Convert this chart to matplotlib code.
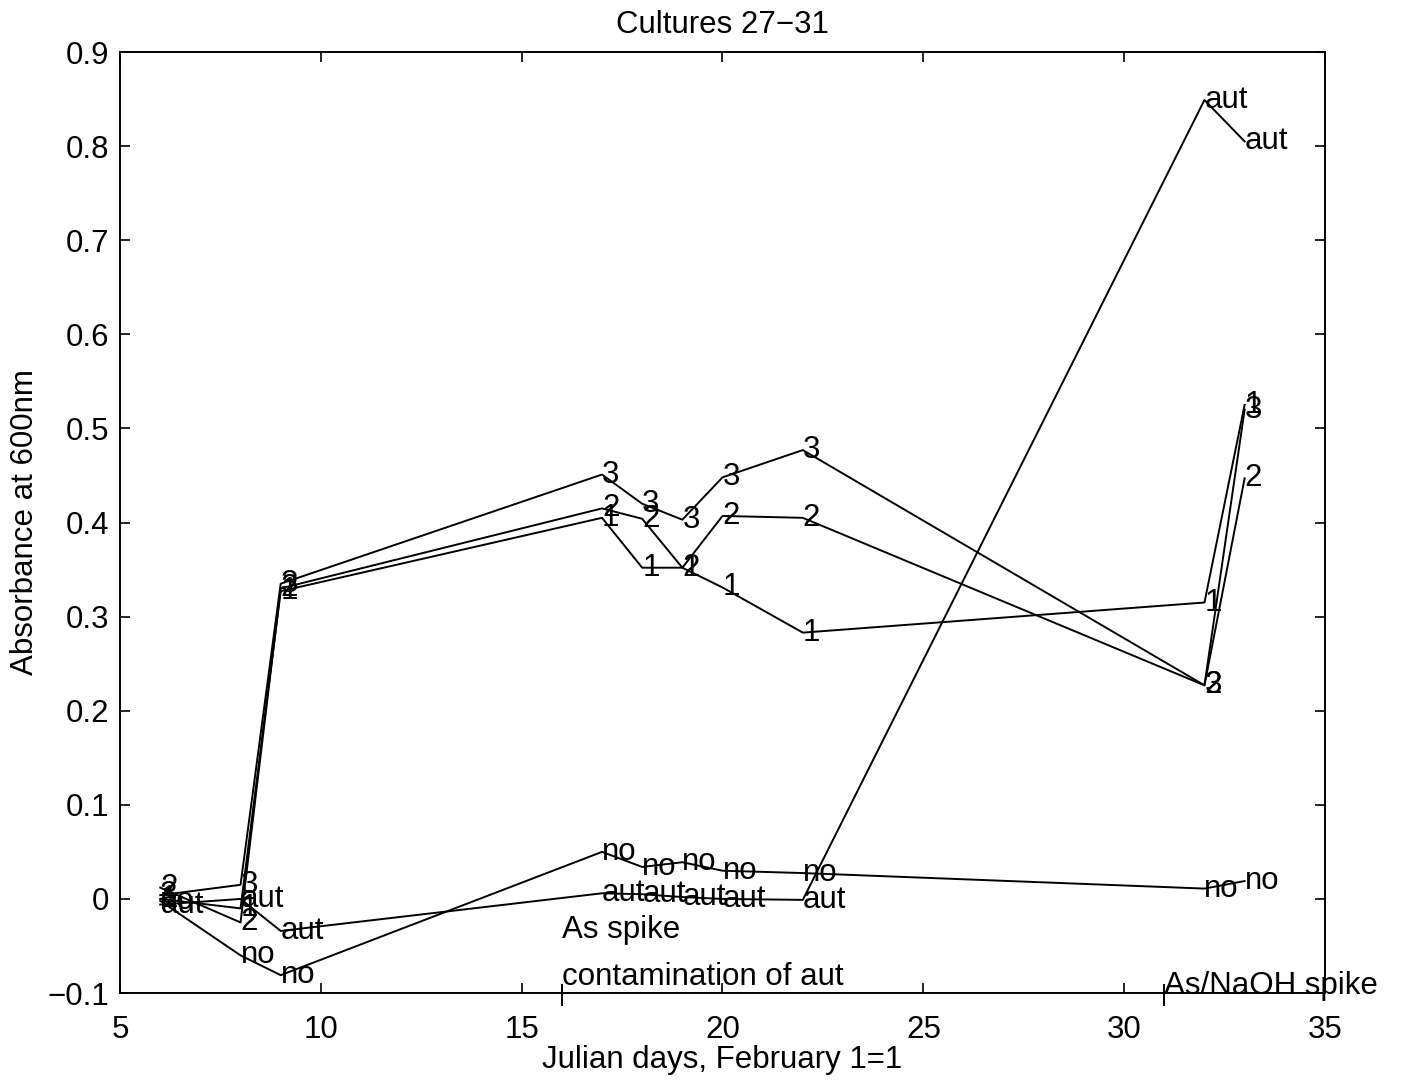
import matplotlib.pyplot as plt

plt.rcParams['font.family'] = ['Liberation Sans', 'DejaVu Sans']
plt.rcParams['font.size'] = 22.5

# sampling days (Julian, February 1 = 1)
days = [6, 8, 9, 17, 18, 19, 20, 22, 32, 33]

# absorbance at 600 nm for each culture
culture1 = [0.000, -0.010, 0.327, 0.405, 0.352, 0.352, 0.331, 0.283, 0.315, 0.525]
culture2 = [0.012, -0.025, 0.330, 0.415, 0.404, 0.352, 0.407, 0.405, 0.227, 0.447]
culture3 = [0.004, 0.015, 0.335, 0.451, 0.420, 0.403, 0.448, 0.477, 0.227, 0.520]
culture_aut = [-0.006, 0.000, -0.034, 0.006, 0.005, 0.002, 0.000, -0.001, 0.849, 0.805]
culture_no = [-0.002, -0.060, -0.081, 0.050, 0.034, 0.039, 0.030, 0.0275, 0.011, 0.019]

series = [('1', culture1), ('2', culture2), ('3', culture3),
          ('aut', culture_aut), ('no', culture_no)]

# event annotations along the bottom
events = [(16, -0.033, 'As spike'),
          (16, -0.083, 'contamination of aut'),
          (31, -0.092, 'As/NaOH spike')]
event_days = [16, 31]

fs = 22.5

fig = plt.figure(figsize=(14.04, 10.86), dpi=100)
ax = fig.add_axes([0.0855, 0.0856, 0.8582, 0.8665])

for name, vals in series:
    ax.plot(days, vals, color='black', linewidth=1.4)
    for d, v in zip(days, vals):
        ax.text(d, v, name, ha='left', va='center', fontsize=fs)

for d, v, s in events:
    ax.text(d, v, s, ha='left', va='center', fontsize=fs)

# small markers for the spike days, crossing the bottom axis
for d in event_days:
    ax.plot([d, d], [-0.113, -0.091], color='black', linewidth=1.4, clip_on=False)

ax.set_xlim(5, 35)
ax.set_ylim(-0.1, 0.9)
ax.set_xticks(range(5, 36, 5))
ax.set_yticks([-0.1, 0, 0.1, 0.2, 0.3, 0.4, 0.5, 0.6, 0.7, 0.8, 0.9])
ax.set_yticklabels(['\u22120.1', '0', '0.1', '0.2', '0.3', '0.4', '0.5',
                    '0.6', '0.7', '0.8', '0.9'])
ax.tick_params(direction='in', length=7.5, width=1.2, top=True, right=True,
               labelsize=fs)
ax.tick_params(axis='y', pad=8)
ax.tick_params(axis='x', pad=16)
for sp in ax.spines.values():
    sp.set_linewidth(1.4)

ax.set_title('Cultures 27\u221231', fontsize=fs, pad=14)
ax.set_xlabel('Julian days, February 1=1', fontsize=fs, labelpad=0)
ax.set_ylabel('Absorbance at 600nm', fontsize=fs, labelpad=5)

fig.savefig('out.png', dpi=100)
